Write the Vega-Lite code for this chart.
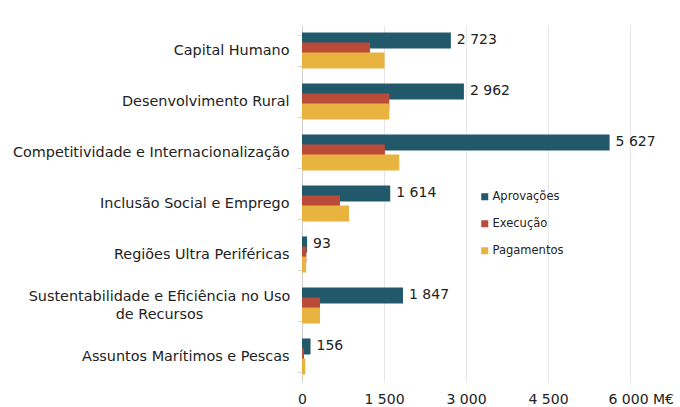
{
  "$schema": "https://vega.github.io/schema/vega-lite/v6.json",
  "width": 328,
  "height": 357,
  "autosize": {"type": "none"},
  "padding": {"left": 302, "top": 25, "right": 50, "bottom": 25},
  "background": "#ffffff",
  "config": {
    "locale": {"number": {"decimal": ",", "thousands": " ", "grouping": [3], "currency": ["", " €"]}},
    "view": {"stroke": null},
    "font": "DejaVu Sans"
  },
  "data": {
    "values": [
      {"eixo": "Capital Humano", "serie": "Aprovações", "valor": 2723},
      {"eixo": "Desenvolvimento Rural", "serie": "Aprovações", "valor": 2962},
      {"eixo": "Competitividade e Internacionalização", "serie": "Aprovações", "valor": 5627},
      {"eixo": "Inclusão Social e Emprego", "serie": "Aprovações", "valor": 1614},
      {"eixo": "Regiões Ultra Periféricas", "serie": "Aprovações", "valor": 93},
      {"eixo": "Sustentabilidade e Eficiência no Uso de Recursos", "serie": "Aprovações", "valor": 1847},
      {"eixo": "Assuntos Marítimos e Pescas", "serie": "Aprovações", "valor": 156},
      {"eixo": "Capital Humano", "serie": "Execução", "valor": 1243},
      {"eixo": "Desenvolvimento Rural", "serie": "Execução", "valor": 1597},
      {"eixo": "Competitividade e Internacionalização", "serie": "Execução", "valor": 1517},
      {"eixo": "Inclusão Social e Emprego", "serie": "Execução", "valor": 695},
      {"eixo": "Regiões Ultra Periféricas", "serie": "Execução", "valor": 80},
      {"eixo": "Sustentabilidade e Eficiência no Uso de Recursos", "serie": "Execução", "valor": 329},
      {"eixo": "Assuntos Marítimos e Pescas", "serie": "Execução", "valor": 37},
      {"eixo": "Capital Humano", "serie": "Pagamentos", "valor": 1510},
      {"eixo": "Desenvolvimento Rural", "serie": "Pagamentos", "valor": 1597},
      {"eixo": "Competitividade e Internacionalização", "serie": "Pagamentos", "valor": 1780},
      {"eixo": "Inclusão Social e Emprego", "serie": "Pagamentos", "valor": 860},
      {"eixo": "Regiões Ultra Periféricas", "serie": "Pagamentos", "valor": 75},
      {"eixo": "Sustentabilidade e Eficiência no Uso de Recursos", "serie": "Pagamentos", "valor": 329},
      {"eixo": "Assuntos Marítimos e Pescas", "serie": "Pagamentos", "valor": 60}
    ]
  },
  "encoding": {
    "y": {
      "field": "eixo", "type": "nominal", "sort": null, "title": null,
      "scale": {"paddingInner": 0.41, "paddingOuter": 0.205},
      "axis": {
        "domainColor": "#d0d0d0",
        "tickColor": "#d8d8d8",
        "tickSize": 5,
        "tickBand": "extent",
        "labelFontSize": 14.4,
        "labelColor": "#222222",
        "labelLineHeight": 18,
        "labelLimit": 400,
        "labelPadding": {"condition": {"test": "datum.value == 'Sustentabilidade e Eficiência no Uso de Recursos'", "value": 138}, "value": 8},
        "labelAlign": {"condition": {"test": "datum.value == 'Sustentabilidade e Eficiência no Uso de Recursos'", "value": "center"}, "value": "right"},
        "labelOffset": {"condition": {"test": "datum.value == 'Sustentabilidade e Eficiência no Uso de Recursos'", "value": -9}, "value": 0},
        "labelExpr": "datum.value == 'Sustentabilidade e Eficiência no Uso de Recursos' ? ['Sustentabilidade e Eficiência no Uso', 'de Recursos'] : datum.label"
      }
    },
    "yOffset": {"field": "serie", "type": "nominal", "sort": ["Aprovações", "Execução", "Pagamentos"], "scale": {"paddingInner": 0, "paddingOuter": 0}},
    "x": {
      "field": "valor", "type": "quantitative", "title": null,
      "scale": {"domain": [0, 6000], "nice": false},
      "axis": {
        "values": [0, 1500, 3000, 4500, 6000],
        "format": ",.0f",
        "grid": true,
        "gridColor": "#e6e6e6",
        "domain": false,
        "ticks": false,
        "labelFlush": false,
        "labelPadding": 10,
        "labelFontSize": 14,
        "labelColor": "#222222",
        "labelExpr": "datum.value == 6000 ? datum.label + ' M€' : datum.label",
        "labelAlign": {"condition": {"test": "datum.value == 6000", "value": "left"}, "value": "center"},
        "labelOffset": {"condition": {"test": "datum.value == 6000", "value": -22}, "value": 0}
      }
    }
  },
  "layer": [
    {
      "mark": {"type": "bar", "height": 16},
      "encoding": {
        "color": {
          "field": "serie", "type": "nominal", "title": null,
          "scale": {"domain": ["Aprovações", "Execução", "Pagamentos"], "range": ["#21596a", "#bb4b39", "#e9b340"]},
          "legend": {
            "orient": "none", "legendX": 177, "legendY": 166,
            "symbolType": "square", "symbolSize": 49, "symbolStrokeWidth": 0,
            "labelFontSize": 11.5, "labelColor": "#222222", "labelOffset": 2,
            "rowPadding": 14, "padding": 0
          }
        }
      }
    },
    {
      "transform": [{"filter": "datum.serie == 'Aprovações'"}],
      "mark": {"type": "text", "align": "left", "baseline": "middle", "dx": 6, "fontSize": 14, "color": "#222222"},
      "encoding": {
        "text": {"field": "valor", "type": "quantitative", "format": ","}
      }
    }
  ]
}
